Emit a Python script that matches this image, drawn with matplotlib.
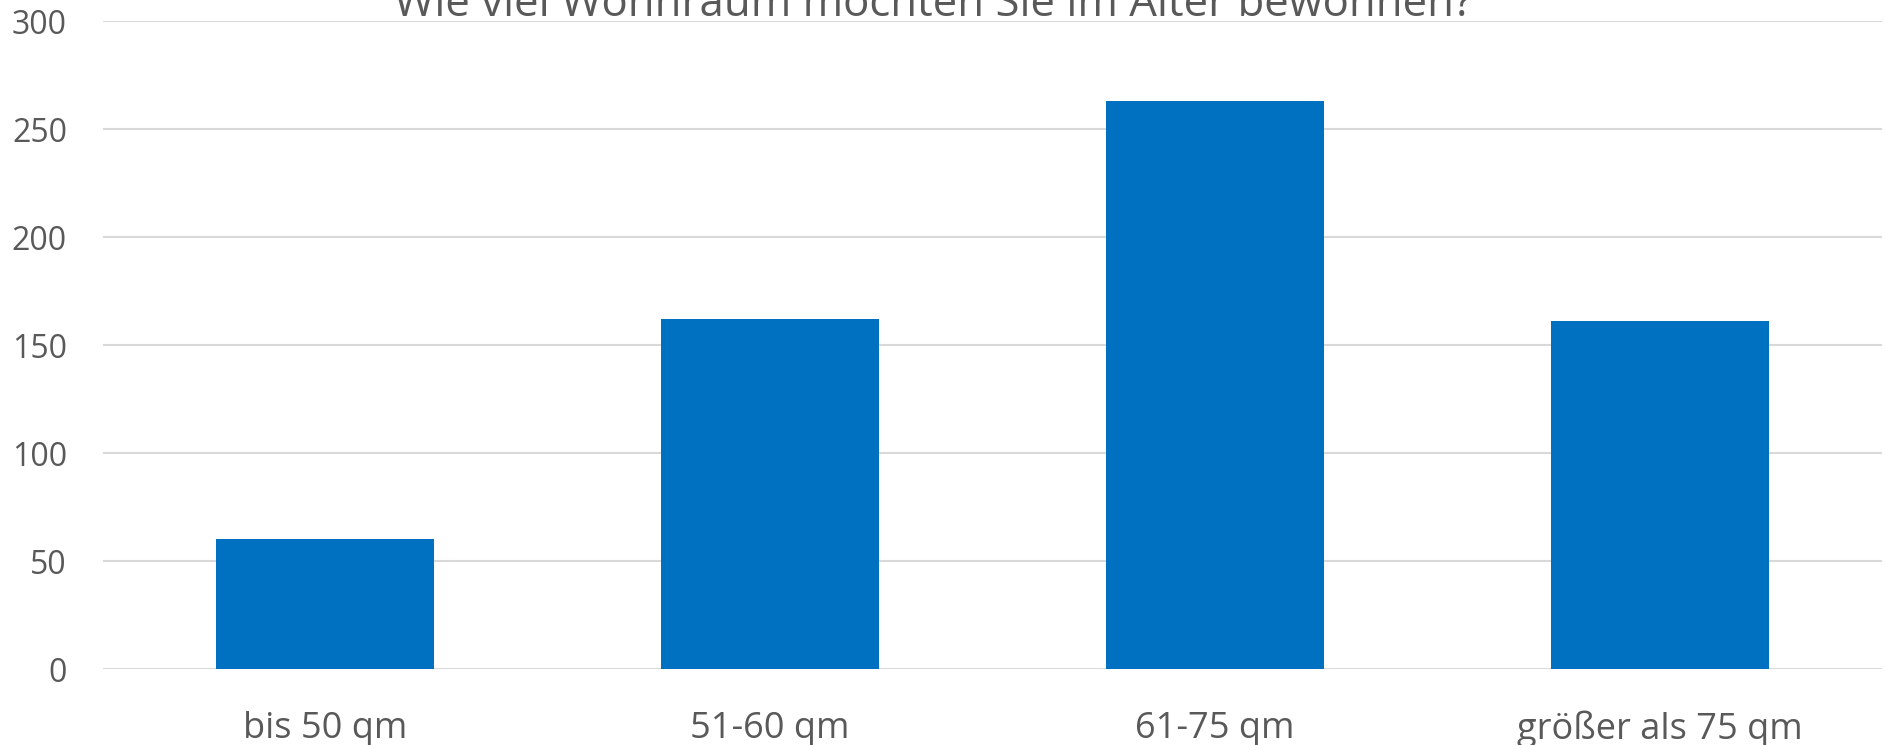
import matplotlib
matplotlib.use("Agg")
import matplotlib.pyplot as plt

# survey answers: preferred living space in old age
categories = ["bis 50 qm", "51-60 qm", "61-75 qm", "größer als 75 qm"]
counts = [60, 162, 263, 161]
y_ticks = [0, 50, 100, 150, 200, 250, 300]
title = "Wie viel Wohnraum möchten Sie im Alter bewohnen?"

BAR = "#0070C0"
GRID = "#D9D9D9"
TEXT = "#595959"

plt.rcParams["font.family"] = ["Open Sans", "DejaVu Sans"]

W, H = 1885, 745
fig = plt.figure(figsize=(W / 100, H / 100), dpi=100)
ax = fig.add_axes([103 / W, (H - 669) / H, (1882 - 103) / W, (669 - 21) / H])

x = range(len(categories))
ax.bar(x, counts, width=0.49, color=BAR, zorder=3)

ax.set_xlim(-0.5, len(categories) - 0.5)
ax.set_ylim(0, 300)
ax.set_yticks(y_ticks)
ax.set_xticks(list(x))
ax.set_xticklabels(categories)
ax.tick_params(axis="both", length=0, colors=TEXT)
ax.tick_params(axis="y", pad=26, labelsize=23)
ax.tick_params(axis="x", pad=30, labelsize=26)

ax.yaxis.grid(True, color=GRID, linewidth=1.5, zorder=0)
for s in ax.spines.values():
    s.set_visible(False)

# title sits mostly above the visible area
fig.text(933 / W, 1 - 16 / H, title, ha="center", va="baseline",
         fontsize=31.5, color=TEXT)

fig.savefig("out.png", dpi=100)
